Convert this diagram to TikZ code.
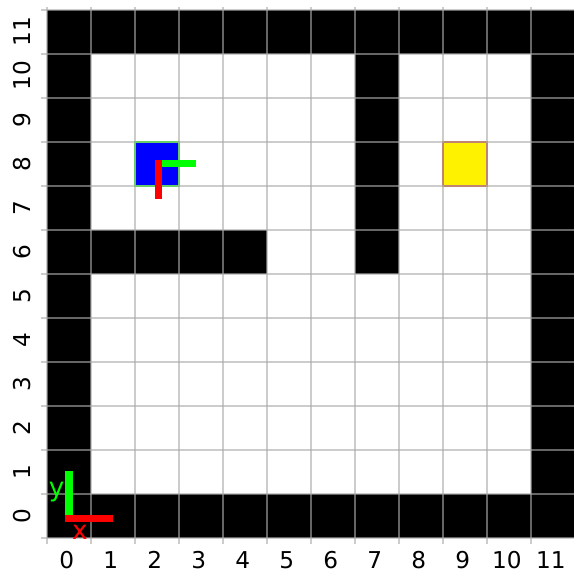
\documentclass[tikz,border=0pt]{standalone}
\usepackage{fontspec}
\setmainfont{DejaVu Sans}
\definecolor{gridgray}{RGB}{170,170,170}
\definecolor{goalborder}{RGB}{220,80,30}
\tikzset{
  wall/.style={fill=black},
  gridline/.style={draw=gridgray,line width=1pt,opacity=0.6},
  axisbar/.style={line width=4.6pt},
}
\begin{document}
\begin{tikzpicture}[x=1cm,y=1cm,font=\fontsize{15}{18}\selectfont]
  \useasboundingbox (-1.068,-0.795) rectangle (11.977,12.227);
  \fill[white] (0,0) rectangle (12,12);
  % walls
  \fill[wall] (0,0) rectangle (12,1);
  \fill[wall] (0,11) rectangle (12,12);
  \fill[wall] (0,0) rectangle (1,12);
  \fill[wall] (11,0) rectangle (12,12);
  \fill[wall] (7,6) rectangle (8,11);
  \fill[wall] (1,6) rectangle (5,7);
  % robot and goal
  \draw[fill=blue,draw=green,line width=0.8pt] (2,8) rectangle (3,9);
  \draw[fill=yellow,draw=goalborder,line width=0.8pt] (9,8) rectangle (10,9);
  % grid
  \foreach \i in {0,...,12} {
    \draw[gridline] (\i,-0.14) -- (\i,12.06);
    \draw[gridline] (-0.14,\i) -- (12.06,\i);
  }
  % tick labels
  \foreach \i in {0,...,11} {
    \node (xl\i) at (\i+0.45,-0.5) {\i};
    \node[rotate=90] (yl\i) at (-0.57,\i+0.5) {\i};
  }
  % robot frame
  \draw[axisbar,green] (2.53,8.51) -- (3.39,8.51);
  \draw[axisbar,red] (2.53,8.59) -- (2.53,7.70);
  % world frame
  \draw[axisbar,green] (0.5,0.52) -- (0.5,1.52);
  \draw[axisbar,red] (0.41,0.443) -- (1.5,0.443);
  \node[red,font=\fontsize{17}{20}\selectfont] (xlab) at (0.75,0.14) {x};
  \node[green,font=\fontsize{17}{20}\selectfont] (ylab) at (0.22,1.05) {y};
\end{tikzpicture}
\end{document}
